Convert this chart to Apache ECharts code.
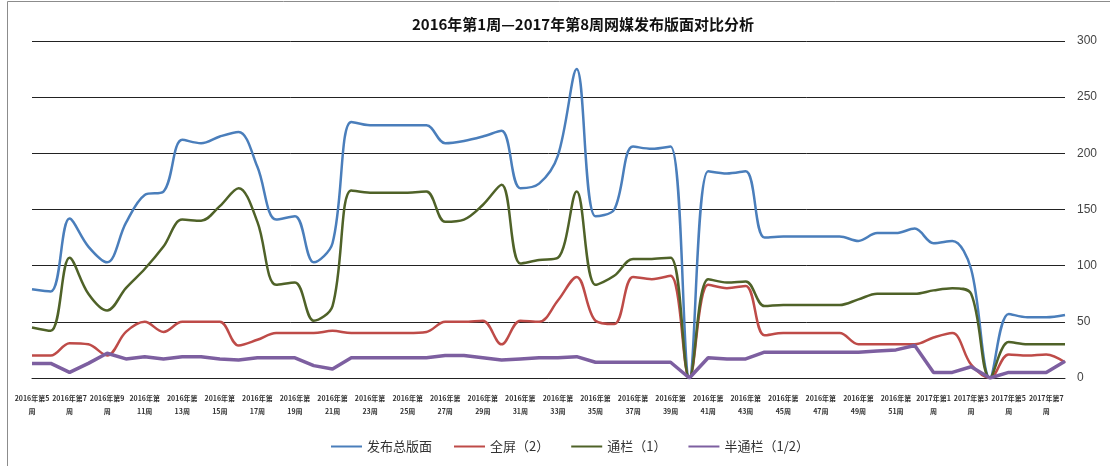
<!DOCTYPE html>
<html>
<head>
<meta charset="utf-8">
<script src="https://cdn.jsdelivr.net/npm/echarts@6/dist/echarts.min.js"></script>
<style>
  html, body { margin: 0; padding: 0; background: #fff; }
  #chart { width: 1110px; height: 466px; }
</style>
</head>
<body>
<div id="chart"></div>
<script>
const weeks = [
  "2016年第5周", "2016年第6周", "2016年第7周", "2016年第8周", "2016年第9周", "2016年第10周",
  "2016年第11周", "2016年第12周", "2016年第13周", "2016年第14周", "2016年第15周", "2016年第16周",
  "2016年第17周", "2016年第18周", "2016年第19周", "2016年第20周", "2016年第21周", "2016年第22周",
  "2016年第23周", "2016年第24周", "2016年第25周", "2016年第26周", "2016年第27周", "2016年第28周",
  "2016年第29周", "2016年第30周", "2016年第31周", "2016年第32周", "2016年第33周", "2016年第34周",
  "2016年第35周", "2016年第36周", "2016年第37周", "2016年第38周", "2016年第39周", "2016年第40周",
  "2016年第41周", "2016年第42周", "2016年第43周", "2016年第44周", "2016年第45周", "2016年第46周",
  "2016年第47周", "2016年第48周", "2016年第49周", "2016年第50周", "2016年第51周", "2016年第52周",
  "2017年第1周", "2017年第2周", "2017年第3周", "2017年第4周", "2017年第5周", "2017年第6周",
  "2017年第7周", "2017年第8周"
];

// 发布总版面
const totalPages = [
  79, 77, 142, 117, 103, 138, 163, 166, 212, 209, 215, 219, 188, 141, 144, 103, 120, 228,
  225, 225, 225, 225, 209, 211, 215, 220, 169, 173, 198, 275, 144, 150, 206, 204, 206, 0,
  184, 182, 184, 125, 126, 126, 126, 126, 122, 129, 129, 133, 120, 122, 97, 0, 57, 54, 54, 56
];
// 全屏（2）
const fullScreen = [
  20, 20, 31, 30, 20, 41, 50, 41, 50, 50, 50, 29, 34, 40, 40, 40, 42, 40,
  40, 40, 40, 41, 50, 50, 51, 30, 51, 50, 69, 90, 51, 48, 90, 88, 91, 0,
  83, 80, 82, 38, 40, 40, 40, 40, 30, 30, 30, 30, 36, 40, 12, 0, 21, 20, 21, 14
];
// 通栏（1）
const banner = [
  45, 42, 107, 75, 60, 80, 97, 117, 141, 140, 153, 169, 139, 83, 85, 51, 64, 167,
  165, 165, 165, 166, 139, 141, 154, 172, 102, 105, 107, 166, 83, 91, 106, 106, 107, 0,
  88, 85, 86, 64, 65, 65, 65, 65, 70, 75, 75, 75, 78, 80, 75, 0, 32, 30, 30, 30
];
// 半通栏（1/2）
const halfBanner = [
  13, 13, 5, 13, 22, 17, 19, 17, 19, 19, 17, 16, 18, 18, 18, 11, 8, 18,
  18, 18, 18, 18, 20, 20, 18, 16, 17, 18, 18, 19, 14, 14, 14, 14, 14, 0,
  18, 17, 17, 23, 23, 23, 23, 23, 23, 24, 25, 29, 5, 5, 10, 0, 5, 5, 5, 15
];

const yTicks = { min: 0, max: 300, interval: 50 };

const myChart = echarts.init(document.getElementById("chart"));

const wrapWeek = (value) => {
  // 2016年第5周 -> "2016年第5\n周", 2016年第11周 -> "2016年第\n11周"
  const m = value.match(/^(\d+年第)(\d+)周$/);
  if (!m) return value;
  if (m[2].length === 1) return m[1] + m[2] + "\n周";
  return m[1] + "\n" + m[2] + "周";
};

const option = {
  animation: false,
  color: ["#4A7EBB", "#BE4B48", "#4F6228", "#7D5FA0"],
  textStyle: { fontFamily: "'Noto Sans CJK SC', 'DejaVu Sans', sans-serif" },
  title: {
    text: "2016年第1周—2017年第8周网媒发布版面对比分析",
    left: 578,
    textAlign: "center",
    top: 12,
    textStyle: { fontSize: 15, fontWeight: "bold", color: "#111" },
  },
  graphic: [
    {
      type: "rect",
      shape: { x: 7.5, y: 1.5, width: 1120, height: 480 },
      style: { fill: "none", stroke: "#8c8c8c", lineWidth: 1 },
      silent: true,
    },
  ],
  legend: {
    bottom: 8,
    left: 326,
    icon: "rect",
    itemWidth: 31,
    itemHeight: 2,
    itemGap: 22,
    textStyle: { fontSize: 13, color: "#333" },
    data: ["发布总版面", "全屏（2）", "通栏（1）", "半通栏（1/2）"],
  },
  grid: {
    left: 32,
    right: 45,
    top: 41,
    bottom: 88,
  },
  xAxis: {
    type: "category",
    boundaryGap: false,
    data: weeks,
    axisLine: { lineStyle: { color: "#222", width: 1 } },
    axisTick: { show: false },
    axisLabel: {
      interval: (idx) => idx % 2 === 0,
      showMinLabel: true,
      hideOverlap: false,
      margin: 14,
      fontSize: 7,
      fontWeight: "bold",
      lineHeight: 13,
      color: "#333",
      formatter: wrapWeek,
    },
  },
  yAxis: {
    type: "value",
    position: "right",
    min: yTicks.min,
    max: yTicks.max,
    interval: yTicks.interval,
    axisLine: { show: false },
    axisTick: { show: false },
    axisLabel: { fontSize: 12, color: "#444", margin: 12, fontFamily: "'Liberation Sans', Arial, sans-serif" },
    splitLine: { lineStyle: { color: "#222", width: 1 } },
  },
  series: [
    {
      name: "发布总版面",
      type: "line",
      smooth: 0.35,
      symbol: "none",
      lineStyle: { width: 2.5 },
      data: totalPages,
    },
    {
      name: "全屏（2）",
      type: "line",
      smooth: 0.35,
      symbol: "none",
      lineStyle: { width: 2.5 },
      data: fullScreen,
    },
    {
      name: "通栏（1）",
      type: "line",
      smooth: 0.35,
      symbol: "none",
      lineStyle: { width: 2.5 },
      data: banner,
    },
    {
      name: "半通栏（1/2）",
      type: "line",
      smooth: false,
      symbol: "none",
      lineStyle: { width: 3.5 },
      data: halfBanner,
    },
  ],
};

option && myChart.setOption(option);
</script>
</body>
</html>
